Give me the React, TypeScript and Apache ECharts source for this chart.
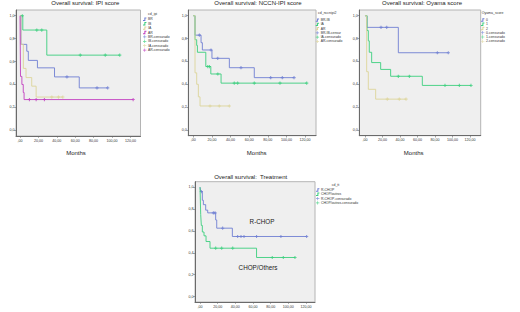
import React, { useEffect, useRef } from "react";
import * as echarts from "echarts";

// ---------------- data ----------------
const xTickValues = [0, 20, 40, 60, 80, 100, 120];
const xTickLabels = [",00", "20,00", "40,00", "60,00", "80,00", "100,00", "120,00"];
const yTickValues = [0, 0.2, 0.4, 0.6, 0.8, 1.0];
const yTickLabels = ["0,0", "0,2", "0,4", "0,6", "0,8", "1,0"];

const panelTitles = [
  "Overall survival: IPI score",
  "Overall survival: NCCN-IPI score",
  "Overall survival: Oyama score",
  "Overall survival:  Treatment",
];
const legendTitles = ["cd_ipi", "cd_nccnipi2", "Oyama_score", "cd_tt"];
const xAxisName = "Months";
const annotations = ["R-CHOP", "CHOP/Others"];

// Panel 1: IPI score  [month, cumulative survival]
const ipiLabels = ["BR", "IB", "IA", "AR"];
const ipiCensLabels = ["BR-censurado", "IB-censurado", "IA-censurado", "AR-censurado"];
const ipiBR = [[0, 1], [1, 0.75], [7.3, 0.69], [9, 0.61], [18.9, 0.545], [37.5, 0.466], [64.4, 0.37], [95.3, 0.37]];
const ipiBRCens = [[51, 0.466], [83.7, 0.37], [95.3, 0.37]];
const ipiIB = [[0, 1], [3, 0.875], [29.1, 0.656], [108.4, 0.656]];
const ipiIBCens = [[2.5, 1], [18.2, 0.875], [23.6, 0.875], [65.5, 0.656], [92.7, 0.656], [108.4, 0.656]];
const ipiIA = [[0, 1], [1, 0.75], [3.6, 0.54], [6.5, 0.46], [12.7, 0.385], [17.5, 0.29], [46.5, 0.29]];
const ipiIACens = [[34.5, 0.29], [41.8, 0.29], [46.5, 0.29]];
const ipiAR = [[0, 1], [0.5, 0.47], [2, 0.4], [3.5, 0.33], [4.4, 0.268], [123, 0.268]];
const ipiARCens = [[10.2, 0.268], [17.5, 0.268], [26.5, 0.268], [123, 0.268]];

// Panel 2: NCCN-IPI score
const nccnLabels = ["BR-IB", "IA", "AR"];
const nccnCensLabels = ["BR-IB-censur", "IA-censurado", "AR-censurado"];
const nccnBRIB = [[0, 1], [1.8, 0.83], [8.3, 0.764], [9.7, 0.7], [20, 0.627], [38.7, 0.545], [65.5, 0.458], [108.2, 0.458]];
const nccnBRIBCens = [[6.5, 0.83], [19, 0.7], [26.2, 0.627], [51.2, 0.545], [83.1, 0.458], [95.6, 0.458], [108.2, 0.458]];
const nccnIA = [[0, 1], [1.8, 0.79], [3.6, 0.74], [4.4, 0.68], [13.4, 0.555], [18.8, 0.49], [29.8, 0.41], [121.8, 0.41]];
const nccnIACens = [[15.5, 0.555], [17.3, 0.555], [26.3, 0.49], [44, 0.41], [47.6, 0.41], [65.5, 0.41], [93.1, 0.41], [121.8, 0.41]];
const nccnAR = [[0, 1], [1.8, 0.5], [3.6, 0.4], [5.4, 0.29], [7.2, 0.21], [38.7, 0.21]];
const nccnARCens = [[17.9, 0.21], [27.9, 0.21], [38.7, 0.21]];

// Panel 3: Oyama score
const oyamaLabels = ["0", "1", "2"];
const oyamaCensLabels = ["0-censurado", "1-censurado", "2-censurado"];
const oyama0 = [[0, 1], [2.3, 0.898], [38.1, 0.676], [95.2, 0.676]];
const oyama0Cens = [[18.3, 0.898], [24.8, 0.898], [82.7, 0.676], [95.2, 0.676]];
const oyama1 = [[0, 1], [2.3, 0.87], [3.8, 0.78], [4.9, 0.68], [7.6, 0.59], [17.9, 0.53], [29.3, 0.47], [65.5, 0.39], [121.1, 0.39]];
const oyama1Cens = [[38.1, 0.47], [50.7, 0.47], [91.4, 0.39], [107.8, 0.39], [121.1, 0.39]];
const oyama2 = [[0, 1], [1.9, 0.51], [3.8, 0.356], [12.2, 0.27], [46.9, 0.27]];
const oyama2Cens = [[25.5, 0.27], [39.2, 0.27], [46.9, 0.27]];

// Panel 4: Treatment
const ttLabels = ["R-CHOP", "CHOP/outros"];
const ttCensLabels = ["R-CHOP-censurado", "CHOP/outros-censurado"];
const rchop = [[0, 1], [0.75, 0.96], [2.6, 0.88], [3.8, 0.84], [6.4, 0.79], [8.7, 0.765], [17.7, 0.7], [18.9, 0.625], [36.6, 0.549], [120.7, 0.549]];
const rchopCens = [[1.5, 0.96], [15.1, 0.765], [17, 0.765], [25.6, 0.625], [42.6, 0.549], [46.4, 0.549], [49.8, 0.549], [64, 0.549], [91.6, 0.549], [120.7, 0.549]];
const chop = [[0, 1], [0.75, 0.75], [1.5, 0.65], [2.6, 0.59], [4.5, 0.555], [6.8, 0.503], [11.3, 0.442], [64, 0.357], [107.5, 0.357]];
const chopCens = [[17.7, 0.442], [24.5, 0.442], [37, 0.442], [81.8, 0.357], [94.3, 0.357], [107.5, 0.357]];

// ---------------- styles / layout ----------------
const FONT = '"Liberation Sans", Arial, Helvetica, sans-serif';
const BLUE = "#6f7fd3";
const GREEN = "#3ccf7e";
const BEIGE = "#ddd59a";
const MAGENTA = "#c23fc0";
const STEP_ICON = "path://M0,7H4V0H10V3H7V10H0Z";
const PLUS_ICON = "path://M4,0H6V4H10V6H6V10H4V6H0V4H4Z";
const CENSOR_SYMBOL = "path://M1,0H2V1H3V2H2V3H1V2H0V1H1Z";

type Curve = { label: string; censLabel: string; color: string; line: number[][]; cens: number[][] };

const panelCurves: Curve[][] = [
  [
    { label: ipiLabels[0], censLabel: ipiCensLabels[0], color: BLUE, line: ipiBR, cens: ipiBRCens },
    { label: ipiLabels[1], censLabel: ipiCensLabels[1], color: GREEN, line: ipiIB, cens: ipiIBCens },
    { label: ipiLabels[2], censLabel: ipiCensLabels[2], color: BEIGE, line: ipiIA, cens: ipiIACens },
    { label: ipiLabels[3], censLabel: ipiCensLabels[3], color: MAGENTA, line: ipiAR, cens: ipiARCens },
  ],
  [
    { label: nccnLabels[0], censLabel: nccnCensLabels[0], color: BLUE, line: nccnBRIB, cens: nccnBRIBCens },
    { label: nccnLabels[1], censLabel: nccnCensLabels[1], color: GREEN, line: nccnIA, cens: nccnIACens },
    { label: nccnLabels[2], censLabel: nccnCensLabels[2], color: BEIGE, line: nccnAR, cens: nccnARCens },
  ],
  [
    { label: oyamaLabels[0], censLabel: oyamaCensLabels[0], color: BLUE, line: oyama0, cens: oyama0Cens },
    { label: oyamaLabels[1], censLabel: oyamaCensLabels[1], color: GREEN, line: oyama1, cens: oyama1Cens },
    { label: oyamaLabels[2], censLabel: oyamaCensLabels[2], color: BEIGE, line: oyama2, cens: oyama2Cens },
  ],
  [
    { label: ttLabels[0], censLabel: ttCensLabels[0], color: BLUE, line: rchop, cens: rchopCens },
    { label: ttLabels[1], censLabel: ttCensLabels[1], color: GREEN, line: chop, cens: chopCens },
  ],
];

const LAYOUT = [
  { grid: { left: 16, top: 10, width: 124.5, height: 126 }, x: [-4.4, 131], title: [85.3, 0], legendTitle: [148, 12], legend: [143, 17.6], gap: 1.0, months: [76, 150] },
  { grid: { left: 188.3, top: 10, width: 127.7, height: 125.7 }, x: [-5.4, 131.8], title: [258, 0], legendTitle: [318, 11], legend: [315.7, 18.4], gap: 0.85, months: [256.7, 150] },
  { grid: { left: 359.3, top: 10, width: 121.4, height: 125.7 }, x: [-6.5, 132.2], title: [422, 0], legendTitle: [481.7, 11], legend: [481, 18.3], gap: 0.85, months: [413.7, 150] },
  { grid: { left: 195, top: 181.7, width: 120, height: 120.3 }, x: [-5.7, 130.2], title: [250.7, 173.5], legendTitle: [331.7, 183], legend: [316, 188.3], gap: 0.9, months: null as null | number[] },
];

function buildOption() {
  const grids: any[] = [];
  const xAxes: any[] = [];
  const yAxes: any[] = [];
  const series: any[] = [];
  const legends: any[] = [];
  const titles: any[] = [];

  LAYOUT.forEach((L, i) => {
    const pid = `p${i}`;
    grids.push({
      ...L.grid,
      show: true,
      backgroundColor: "#efefef",
      borderColor: "#b4b4b4",
      borderWidth: 1,
      containLabel: false,
    });
    xAxes.push({
      type: "value",
      gridIndex: i,
      min: L.x[0],
      max: L.x[1],
      axisLine: { show: true, onZero: false, lineStyle: { color: "#6a6a6a", width: 1 } },
      axisTick: { show: true, length: 1.8, customValues: xTickValues, lineStyle: { color: "#6a6a6a", width: 0.6 } },
      axisLabel: {
        show: true,
        customValues: xTickValues,
        margin: 2.5,
        fontSize: 3.6,
        color: "#333",
        fontFamily: FONT,
        formatter: (v: number) => xTickLabels[xTickValues.indexOf(Math.round(v))] ?? "",
      },
      splitLine: { show: false },
    });
    yAxes.push({
      type: "value",
      gridIndex: i,
      min: -0.05,
      max: 1.05,
      axisLine: { show: true, onZero: false, lineStyle: { color: "#6a6a6a", width: 1 } },
      axisTick: { show: true, length: 1.8, customValues: yTickValues, lineStyle: { color: "#6a6a6a", width: 0.6 } },
      axisLabel: {
        show: true,
        customValues: yTickValues,
        margin: 1.5,
        fontSize: 3.6,
        color: "#333",
        fontFamily: FONT,
        formatter: (v: number) => yTickLabels[Math.round(v * 5)] ?? "",
      },
      splitLine: { show: false },
    });

    const curves = panelCurves[i];
    const legendData: any[] = [];
    curves.forEach((c) => {
      series.push({
        type: "line",
        name: `${pid}|${c.label}`,
        xAxisIndex: i,
        yAxisIndex: i,
        data: c.line,
        step: "end",
        symbol: "none",
        lineStyle: { color: c.color, width: 0.9 },
        itemStyle: { color: c.color },
        silent: true,
      });
      legendData.push({ name: `${pid}|${c.label}`, icon: STEP_ICON });
    });
    curves.forEach((c) => {
      series.push({
        type: "scatter",
        name: `${pid}|${c.censLabel}`,
        xAxisIndex: i,
        yAxisIndex: i,
        data: c.cens,
        symbol: CENSOR_SYMBOL,
        symbolSize: 3.2,
        itemStyle: { color: c.color },
        silent: true,
      });
      legendData.push({ name: `${pid}|${c.censLabel}`, icon: PLUS_ICON });
    });

    legends.push({
      orient: "vertical",
      left: L.legend[0],
      top: L.legend[1],
      padding: 0,
      itemWidth: 4.5,
      itemHeight: 3.4,
      itemGap: L.gap,
      selectedMode: false,
      itemStyle: { borderWidth: 0 },
      textStyle: { fontSize: 3.4, lineHeight: 3.4, color: "#333", fontFamily: FONT, padding: [0, 0, 0, -4] },
      formatter: (name: string) => name.split("|")[1],
      data: legendData,
    });

    titles.push({
      text: panelTitles[i],
      left: L.title[0],
      top: L.title[1],
      textAlign: "center",
      padding: 0,
      textStyle: { fontSize: 6, fontWeight: "normal", color: "#222", fontFamily: FONT },
    });
    titles.push({
      text: legendTitles[i],
      left: L.legendTitle[0],
      top: L.legendTitle[1],
      padding: 0,
      textStyle: { fontSize: 3.5, fontWeight: "normal", color: "#333", fontFamily: FONT },
    });
    if (L.months) {
      titles.push({
        text: xAxisName,
        left: L.months[0],
        top: L.months[1],
        textAlign: "center",
        padding: 0,
        textStyle: { fontSize: 6, fontWeight: "normal", color: "#222", fontFamily: FONT },
      });
    }
  });

  return {
    animation: false,
    backgroundColor: "#ffffff",
    title: titles,
    grid: grids,
    xAxis: xAxes,
    yAxis: yAxes,
    legend: legends,
    series,
    graphic: [
      {
        type: "text",
        x: 262,
        y: 221.5,
        style: { text: annotations[0], fontSize: 6.3, fill: "#222", fontFamily: FONT, align: "center", verticalAlign: "middle" },
      },
      {
        type: "text",
        x: 258,
        y: 267.5,
        style: { text: annotations[1], fontSize: 6.3, fill: "#222", fontFamily: FONT, align: "center", verticalAlign: "middle" },
      },
    ],
  };
}

export default function App() {
  const ref = useRef<HTMLDivElement>(null);
  useEffect(() => {
    if (!ref.current) return;
    const chart = echarts.init(ref.current, undefined, { renderer: "svg" });
    chart.setOption(buildOption() as any);
    return () => chart.dispose();
  }, []);
  return <div ref={ref} style={{ width: 520, height: 312, position: "absolute", left: 0, top: 0 }} />;
}
